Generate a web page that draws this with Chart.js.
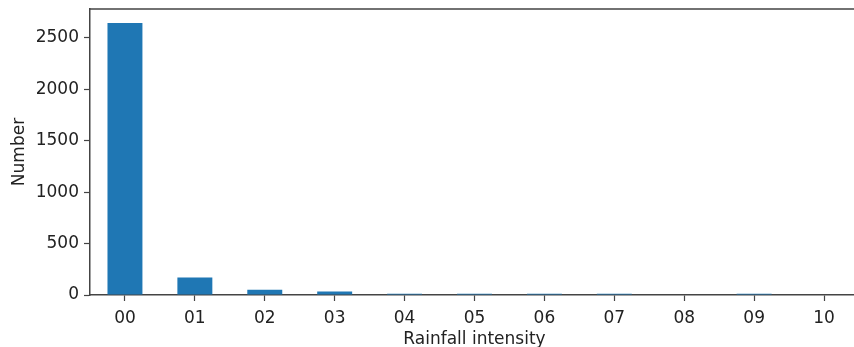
<!DOCTYPE html>
<html>
<head>
<meta charset="utf-8">
<script src="https://cdn.jsdelivr.net/npm/chart.js@4/dist/chart.umd.min.js"></script>
<style>
  html, body { margin: 0; padding: 0; background: #fff; overflow: hidden; }
  canvas { display: block; }
</style>
</head>
<body>
<canvas id="rainChart" width="870" height="350"></canvas>
<script>
// Rainfall intensity classes and how many samples fall in each
const categories = ['00', '01', '02', '03', '04', '05', '06', '07', '08', '09', '10'];
const counts = [2645, 170, 50, 35, 12, 12, 12, 12, 0, 12, 0];
const yTicks = [0, 500, 1000, 1500, 2000, 2500];

const SPINE = '#444';
const TEXT = '#222';
const FONT = { family: 'DejaVu Sans', size: 17 };

// top/right spines like matplotlib
const frame = {
    id: 'frame',
    afterDraw(chart) {
        const { ctx, chartArea: a } = chart;
        ctx.save();
        ctx.strokeStyle = SPINE;
        ctx.lineWidth = 1.5;
        ctx.beginPath();
        ctx.moveTo(a.left, a.top);
        ctx.lineTo(a.right, a.top);
        ctx.lineTo(a.right, a.bottom);
        ctx.stroke();
        ctx.restore();
    }
};

const ctx = document.getElementById('rainChart').getContext('2d');
new Chart(ctx, {
    type: 'bar',
    data: {
        labels: categories,
        datasets: [{
            label: 'Number',
            data: counts,
            backgroundColor: '#1f77b4',
            borderWidth: 0,
            categoryPercentage: 1,
            barPercentage: 0.5
        }]
    },
    options: {
        responsive: false,
        animation: false,
        layout: { padding: { top: 9, right: 11, left: 0, bottom: 0 } },
        scales: {
            x: {
                offset: true,
                grid: { display: true, drawOnChartArea: false, offset: false, tickLength: 6, color: SPINE, tickWidth: 1.2 },
                border: { display: true, color: SPINE, width: 1.5 },
                ticks: { color: TEXT, font: FONT, padding: 7, maxRotation: 0 },
                title: { display: true, text: 'Rainfall intensity', color: TEXT, font: FONT, padding: { top: 0, bottom: 0 } },
                afterFit(scale) {
                    scale.height = 55;
                    scale.paddingLeft = 0;
                    scale.paddingRight = 0;
                }
            },
            y: {
                min: 0,
                max: 2780,
                afterBuildTicks(scale) { scale.ticks = yTicks.map(v => ({ value: v })); },
                grid: { display: true, drawOnChartArea: false, tickLength: 6, color: SPINE, tickWidth: 1.2 },
                border: { display: true, color: SPINE, width: 1.5 },
                ticks: { color: TEXT, font: FONT, padding: 5, callback: v => String(v) },
                title: { display: true, text: 'Number', color: TEXT, font: FONT, padding: { top: 9, bottom: 0 } },
                afterFit(scale) {
                    scale.width = 90;
                    scale.paddingTop = 0;
                    scale.paddingBottom = 0;
                }
            }
        },
        plugins: {
            legend: { display: false },
            tooltip: { enabled: false }
        }
    },
    plugins: [frame]
});
</script>
</body>
</html>
